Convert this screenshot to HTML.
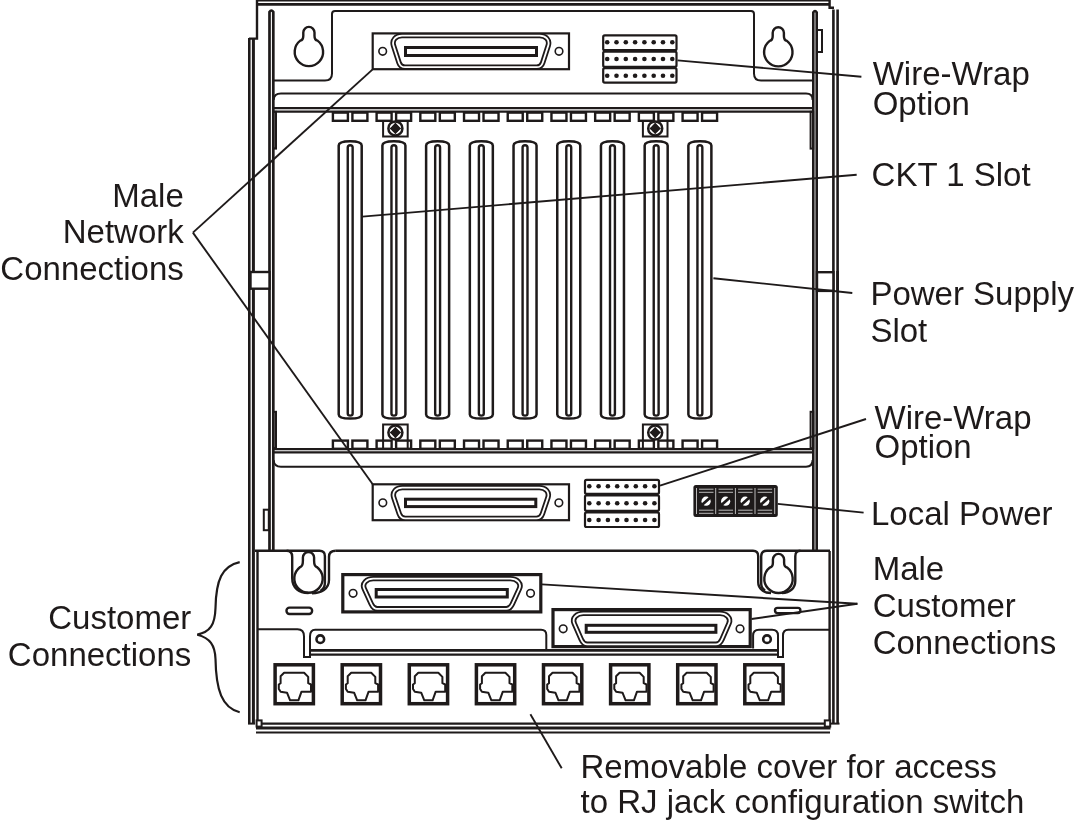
<!DOCTYPE html>
<html><head><meta charset="utf-8"><style>html,body{margin:0;padding:0;background:#fff;width:1074px;height:822px;overflow:hidden}svg{display:block;will-change:transform}</style></head>
<body><svg width="1074" height="822" viewBox="0 0 1074 822">
<g stroke="#1e1a1a" fill="none" stroke-linecap="butt">
<line x1="256" y1="0.7" x2="830" y2="0.7" stroke-width="1.6"/>
<line x1="256" y1="4.4" x2="830" y2="4.4" stroke-width="2.8"/>
<path d="M257,0 L257,38.6 L249,38.6" stroke-width="2.4" fill="none" />
<path d="M829.6,0 L829.6,7.8 L834,7.8" stroke-width="2.4" fill="none" />
<line x1="249.3" y1="38" x2="249.3" y2="723.5" stroke-width="2.6"/>
<line x1="253.4" y1="38" x2="253.4" y2="723.5" stroke-width="3.0"/>
<path d="M269.5,551 L269.5,12 Q271.4,9 273.3,12 L273.3,551" stroke-width="2.7" fill="none" />
<path d="M813.3,551 L813.3,12.5 Q815,9.5 816.7,12.5 L816.7,551" stroke-width="2.6" fill="none" />
<rect x="817" y="30" width="5" height="22" rx="0" stroke-width="2" fill="none"/>
<line x1="833.4" y1="9.5" x2="833.4" y2="723" stroke-width="2.6"/>
<line x1="837.6" y1="9.5" x2="837.6" y2="723" stroke-width="2.6"/>
<line x1="829.6" y1="551" x2="829.6" y2="723" stroke-width="2.4"/>
<line x1="257.5" y1="551" x2="257.5" y2="725" stroke-width="2.4"/>
<rect x="250.5" y="272" width="19" height="16.7" rx="0" stroke-width="2.4" fill="#fff"/>
<line x1="249.3" y1="271" x2="249.3" y2="290" stroke-width="2.6"/>
<rect x="817" y="272.2" width="16.4" height="18.7" rx="0" stroke-width="2.4" fill="#fff"/>
<line x1="837.6" y1="271" x2="837.6" y2="292" stroke-width="2.6"/>
<rect x="273.4" y="111.8" width="2.6" height="36.8" rx="0" stroke-width="2" fill="none"/>
<rect x="810.6" y="111.8" width="2.6" height="36.8" rx="0" stroke-width="2" fill="none"/>
<rect x="273.4" y="411.8" width="2.6" height="36.4" rx="0" stroke-width="2" fill="none"/>
<rect x="810.6" y="411.8" width="2.6" height="36.4" rx="0" stroke-width="2" fill="none"/>
<rect x="263.8" y="509.7" width="5" height="20.5" rx="0" stroke-width="2" fill="none"/>
<path d="M274,80.5 L325,80.5 Q332,80.5 332,73.5 L332,14 Q332,11 335,11 L751,11 Q754,11 754,14 L754,73.5 Q754,80.5 761,80.5 L812.6,80.5" stroke-width="2" fill="none" />
<path d="M303.30,32.50 A5.6,5.6 0 0 1 314.50,32.50 L314.50,35.70 Q314.50,40.00 317.50,40.60 A14.2,14.2 0 1 1 300.30,40.60 Q303.30,40.00 303.30,35.70 Z" stroke-width="2.4" fill="none" />
<path d="M772.70,32.80 A5.6,5.6 0 0 1 783.90,32.80 L783.90,36.00 Q783.90,40.30 786.90,40.90 A14.2,14.2 0 1 1 769.70,40.90 Q772.70,40.30 772.70,36.00 Z" stroke-width="2.4" fill="none" />
<path d="M273.6,100 Q274,93.6 281,93.6 L806,93.6 Q812.6,93.6 812.6,100" stroke-width="2" fill="none" />
<line x1="273.6" y1="108.2" x2="812.6" y2="108.2" stroke-width="2.2"/>
<line x1="273.6" y1="111.6" x2="812.6" y2="111.6" stroke-width="2.2"/>
<rect x="372.7" y="33.4" width="196.3" height="35.800000000000004" rx="0" stroke-width="2.2" fill="none"/>
<path d="M402.00,35.60 L539.70,35.60 C545.65,35.60 550.04,39.89 548.20,45.60 L542.70,62.70 C541.80,65.48 539.70,67.20 536.70,67.20 L405.00,67.20 C402.00,67.20 399.90,65.48 399.00,62.70 L393.50,45.60 C391.66,39.89 396.05,35.60 402.00,35.60 Z" stroke-width="5.4" fill="none" />
<path d="M402.00,35.60 L539.70,35.60 C545.65,35.60 550.04,39.89 548.20,45.60 L542.70,62.70 C541.80,65.48 539.70,67.20 536.70,67.20 L405.00,67.20 C402.00,67.20 399.90,65.48 399.00,62.70 L393.50,45.60 C391.66,39.89 396.05,35.60 402.00,35.60 Z" stroke="#fff" stroke-width="1.8" fill="none"/>
<rect x="405.5" y="47.5" width="131.0" height="8.0" rx="0" stroke-width="3" fill="none"/>
<circle cx="382.68399999999997" cy="51.35" r="3.8" stroke-width="1.6" fill="none"/>
<circle cx="559.016" cy="51.35" r="3.8" stroke-width="1.6" fill="none"/>
<rect x="372.7" y="484.3" width="196.3" height="35.900000000000034" rx="0" stroke-width="2.2" fill="none"/>
<path d="M402.30,487.60 L539.40,487.60 C545.35,487.60 549.82,491.91 547.90,497.60 L542.40,513.90 C541.46,516.67 539.40,518.40 536.40,518.40 L405.30,518.40 C402.30,518.40 400.24,516.67 399.30,513.90 L393.80,497.60 C391.88,491.91 396.35,487.60 402.30,487.60 Z" stroke-width="5.4" fill="none" />
<path d="M402.30,487.60 L539.40,487.60 C545.35,487.60 549.82,491.91 547.90,497.60 L542.40,513.90 C541.46,516.67 539.40,518.40 536.40,518.40 L405.30,518.40 C402.30,518.40 400.24,516.67 399.30,513.90 L393.80,497.60 C391.88,491.91 396.35,487.60 402.30,487.60 Z" stroke="#fff" stroke-width="1.8" fill="none"/>
<rect x="405.5" y="499.2" width="130.29999999999995" height="7.400000000000034" rx="0" stroke-width="3" fill="none"/>
<circle cx="382.828" cy="502.8" r="3.8" stroke-width="1.6" fill="none"/>
<circle cx="558.872" cy="502.8" r="3.8" stroke-width="1.6" fill="none"/>
<rect x="603.2" y="35.4" width="73.29999999999995" height="14.800000000000004" rx="1.5" stroke-width="2.2" fill="none"/>
<rect x="603.2" y="51.6" width="73.29999999999995" height="15.199999999999996" rx="1.5" stroke-width="2.2" fill="none"/>
<rect x="603.2" y="68.2" width="73.29999999999995" height="14.399999999999991" rx="1.5" stroke-width="2.2" fill="none"/>
<circle cx="607.2" cy="42.2" r="2.3" stroke-width="0" fill="#1e1a1a"/>
<circle cx="616.5" cy="42.2" r="2.3" stroke-width="0" fill="#1e1a1a"/>
<circle cx="625.8" cy="42.2" r="2.3" stroke-width="0" fill="#1e1a1a"/>
<circle cx="635.1" cy="42.2" r="2.3" stroke-width="0" fill="#1e1a1a"/>
<circle cx="644.4" cy="42.2" r="2.3" stroke-width="0" fill="#1e1a1a"/>
<circle cx="653.7" cy="42.2" r="2.3" stroke-width="0" fill="#1e1a1a"/>
<circle cx="663.0" cy="42.2" r="2.3" stroke-width="0" fill="#1e1a1a"/>
<circle cx="672.3" cy="42.2" r="2.3" stroke-width="0" fill="#1e1a1a"/>
<circle cx="607.2" cy="59" r="2.3" stroke-width="0" fill="#1e1a1a"/>
<circle cx="616.5" cy="59" r="2.3" stroke-width="0" fill="#1e1a1a"/>
<circle cx="625.8" cy="59" r="2.3" stroke-width="0" fill="#1e1a1a"/>
<circle cx="635.1" cy="59" r="2.3" stroke-width="0" fill="#1e1a1a"/>
<circle cx="644.4" cy="59" r="2.3" stroke-width="0" fill="#1e1a1a"/>
<circle cx="653.7" cy="59" r="2.3" stroke-width="0" fill="#1e1a1a"/>
<circle cx="663.0" cy="59" r="2.3" stroke-width="0" fill="#1e1a1a"/>
<circle cx="672.3" cy="59" r="2.3" stroke-width="0" fill="#1e1a1a"/>
<circle cx="607.2" cy="75.7" r="2.3" stroke-width="0" fill="#1e1a1a"/>
<circle cx="616.5" cy="75.7" r="2.3" stroke-width="0" fill="#1e1a1a"/>
<circle cx="625.8" cy="75.7" r="2.3" stroke-width="0" fill="#1e1a1a"/>
<circle cx="635.1" cy="75.7" r="2.3" stroke-width="0" fill="#1e1a1a"/>
<circle cx="644.4" cy="75.7" r="2.3" stroke-width="0" fill="#1e1a1a"/>
<circle cx="653.7" cy="75.7" r="2.3" stroke-width="0" fill="#1e1a1a"/>
<circle cx="663.0" cy="75.7" r="2.3" stroke-width="0" fill="#1e1a1a"/>
<circle cx="672.3" cy="75.7" r="2.3" stroke-width="0" fill="#1e1a1a"/>
<rect x="585" y="479.9" width="74" height="13.900000000000034" rx="1.5" stroke-width="2.2" fill="none"/>
<rect x="585" y="495.3" width="74" height="15.5" rx="1.5" stroke-width="2.2" fill="none"/>
<rect x="585" y="512.4" width="74" height="14.600000000000023" rx="1.5" stroke-width="2.2" fill="none"/>
<circle cx="589.3" cy="486.3" r="2.3" stroke-width="0" fill="#1e1a1a"/>
<circle cx="598.6" cy="486.3" r="2.3" stroke-width="0" fill="#1e1a1a"/>
<circle cx="607.9" cy="486.3" r="2.3" stroke-width="0" fill="#1e1a1a"/>
<circle cx="617.2" cy="486.3" r="2.3" stroke-width="0" fill="#1e1a1a"/>
<circle cx="626.5" cy="486.3" r="2.3" stroke-width="0" fill="#1e1a1a"/>
<circle cx="635.8" cy="486.3" r="2.3" stroke-width="0" fill="#1e1a1a"/>
<circle cx="645.1" cy="486.3" r="2.3" stroke-width="0" fill="#1e1a1a"/>
<circle cx="654.4" cy="486.3" r="2.3" stroke-width="0" fill="#1e1a1a"/>
<circle cx="589.3" cy="503.3" r="2.3" stroke-width="0" fill="#1e1a1a"/>
<circle cx="598.6" cy="503.3" r="2.3" stroke-width="0" fill="#1e1a1a"/>
<circle cx="607.9" cy="503.3" r="2.3" stroke-width="0" fill="#1e1a1a"/>
<circle cx="617.2" cy="503.3" r="2.3" stroke-width="0" fill="#1e1a1a"/>
<circle cx="626.5" cy="503.3" r="2.3" stroke-width="0" fill="#1e1a1a"/>
<circle cx="635.8" cy="503.3" r="2.3" stroke-width="0" fill="#1e1a1a"/>
<circle cx="645.1" cy="503.3" r="2.3" stroke-width="0" fill="#1e1a1a"/>
<circle cx="654.4" cy="503.3" r="2.3" stroke-width="0" fill="#1e1a1a"/>
<circle cx="589.3" cy="520" r="2.3" stroke-width="0" fill="#1e1a1a"/>
<circle cx="598.6" cy="520" r="2.3" stroke-width="0" fill="#1e1a1a"/>
<circle cx="607.9" cy="520" r="2.3" stroke-width="0" fill="#1e1a1a"/>
<circle cx="617.2" cy="520" r="2.3" stroke-width="0" fill="#1e1a1a"/>
<circle cx="626.5" cy="520" r="2.3" stroke-width="0" fill="#1e1a1a"/>
<circle cx="635.8" cy="520" r="2.3" stroke-width="0" fill="#1e1a1a"/>
<circle cx="645.1" cy="520" r="2.3" stroke-width="0" fill="#1e1a1a"/>
<circle cx="654.4" cy="520" r="2.3" stroke-width="0" fill="#1e1a1a"/>
<rect x="332.9" y="112.6" width="15" height="8.2" rx="0" stroke-width="2.4" fill="none"/>
<rect x="352.4" y="112.6" width="15" height="8.2" rx="0" stroke-width="2.4" fill="none"/>
<rect x="332.9" y="440.6" width="15" height="8.2" rx="0" stroke-width="2.4" fill="none"/>
<rect x="352.4" y="440.6" width="15" height="8.2" rx="0" stroke-width="2.4" fill="none"/>
<path d="M338.70,414.5 L338.70,145.5 Q338.70,141.2 350.20,141.2 Q361.70,141.2 361.70,145.5 L361.70,414.5 Q361.70,418.6 350.20,418.6 Q338.70,418.6 338.70,414.5 Z" stroke-width="2.5" fill="none" />
<path d="M347.75,413.5 L347.75,147.5 Q347.75,145.2 350.20,145.2 Q352.65,145.2 352.65,147.5 L352.65,413.5 Q352.65,415.6 350.20,415.6 Q347.75,415.6 347.75,413.5 Z" stroke-width="2.4" fill="none" />
<rect x="376.61" y="112.6" width="15" height="8.2" rx="0" stroke-width="2.4" fill="none"/>
<rect x="396.11" y="112.6" width="15" height="8.2" rx="0" stroke-width="2.4" fill="none"/>
<rect x="376.61" y="440.6" width="15" height="8.2" rx="0" stroke-width="2.4" fill="none"/>
<rect x="396.11" y="440.6" width="15" height="8.2" rx="0" stroke-width="2.4" fill="none"/>
<path d="M382.41,414.5 L382.41,145.5 Q382.41,141.2 393.91,141.2 Q405.41,141.2 405.41,145.5 L405.41,414.5 Q405.41,418.6 393.91,418.6 Q382.41,418.6 382.41,414.5 Z" stroke-width="2.5" fill="none" />
<path d="M391.46,413.5 L391.46,147.5 Q391.46,145.2 393.91,145.2 Q396.36,145.2 396.36,147.5 L396.36,413.5 Q396.36,415.6 393.91,415.6 Q391.46,415.6 391.46,413.5 Z" stroke-width="2.4" fill="none" />
<rect x="420.32" y="112.6" width="15" height="8.2" rx="0" stroke-width="2.4" fill="none"/>
<rect x="439.82" y="112.6" width="15" height="8.2" rx="0" stroke-width="2.4" fill="none"/>
<rect x="420.32" y="440.6" width="15" height="8.2" rx="0" stroke-width="2.4" fill="none"/>
<rect x="439.82" y="440.6" width="15" height="8.2" rx="0" stroke-width="2.4" fill="none"/>
<path d="M426.12,414.5 L426.12,145.5 Q426.12,141.2 437.62,141.2 Q449.12,141.2 449.12,145.5 L449.12,414.5 Q449.12,418.6 437.62,418.6 Q426.12,418.6 426.12,414.5 Z" stroke-width="2.5" fill="none" />
<path d="M435.17,413.5 L435.17,147.5 Q435.17,145.2 437.62,145.2 Q440.07,145.2 440.07,147.5 L440.07,413.5 Q440.07,415.6 437.62,415.6 Q435.17,415.6 435.17,413.5 Z" stroke-width="2.4" fill="none" />
<rect x="464.03" y="112.6" width="15" height="8.2" rx="0" stroke-width="2.4" fill="none"/>
<rect x="483.53" y="112.6" width="15" height="8.2" rx="0" stroke-width="2.4" fill="none"/>
<rect x="464.03" y="440.6" width="15" height="8.2" rx="0" stroke-width="2.4" fill="none"/>
<rect x="483.53" y="440.6" width="15" height="8.2" rx="0" stroke-width="2.4" fill="none"/>
<path d="M469.83,414.5 L469.83,145.5 Q469.83,141.2 481.33,141.2 Q492.83,141.2 492.83,145.5 L492.83,414.5 Q492.83,418.6 481.33,418.6 Q469.83,418.6 469.83,414.5 Z" stroke-width="2.5" fill="none" />
<path d="M478.88,413.5 L478.88,147.5 Q478.88,145.2 481.33,145.2 Q483.78,145.2 483.78,147.5 L483.78,413.5 Q483.78,415.6 481.33,415.6 Q478.88,415.6 478.88,413.5 Z" stroke-width="2.4" fill="none" />
<rect x="507.74" y="112.6" width="15" height="8.2" rx="0" stroke-width="2.4" fill="none"/>
<rect x="527.24" y="112.6" width="15" height="8.2" rx="0" stroke-width="2.4" fill="none"/>
<rect x="507.74" y="440.6" width="15" height="8.2" rx="0" stroke-width="2.4" fill="none"/>
<rect x="527.24" y="440.6" width="15" height="8.2" rx="0" stroke-width="2.4" fill="none"/>
<path d="M513.54,414.5 L513.54,145.5 Q513.54,141.2 525.04,141.2 Q536.54,141.2 536.54,145.5 L536.54,414.5 Q536.54,418.6 525.04,418.6 Q513.54,418.6 513.54,414.5 Z" stroke-width="2.5" fill="none" />
<path d="M522.59,413.5 L522.59,147.5 Q522.59,145.2 525.04,145.2 Q527.49,145.2 527.49,147.5 L527.49,413.5 Q527.49,415.6 525.04,415.6 Q522.59,415.6 522.59,413.5 Z" stroke-width="2.4" fill="none" />
<rect x="551.45" y="112.6" width="15" height="8.2" rx="0" stroke-width="2.4" fill="none"/>
<rect x="570.95" y="112.6" width="15" height="8.2" rx="0" stroke-width="2.4" fill="none"/>
<rect x="551.45" y="440.6" width="15" height="8.2" rx="0" stroke-width="2.4" fill="none"/>
<rect x="570.95" y="440.6" width="15" height="8.2" rx="0" stroke-width="2.4" fill="none"/>
<path d="M557.25,414.5 L557.25,145.5 Q557.25,141.2 568.75,141.2 Q580.25,141.2 580.25,145.5 L580.25,414.5 Q580.25,418.6 568.75,418.6 Q557.25,418.6 557.25,414.5 Z" stroke-width="2.5" fill="none" />
<path d="M566.30,413.5 L566.30,147.5 Q566.30,145.2 568.75,145.2 Q571.20,145.2 571.20,147.5 L571.20,413.5 Q571.20,415.6 568.75,415.6 Q566.30,415.6 566.30,413.5 Z" stroke-width="2.4" fill="none" />
<rect x="595.16" y="112.6" width="15" height="8.2" rx="0" stroke-width="2.4" fill="none"/>
<rect x="614.66" y="112.6" width="15" height="8.2" rx="0" stroke-width="2.4" fill="none"/>
<rect x="595.16" y="440.6" width="15" height="8.2" rx="0" stroke-width="2.4" fill="none"/>
<rect x="614.66" y="440.6" width="15" height="8.2" rx="0" stroke-width="2.4" fill="none"/>
<path d="M600.96,414.5 L600.96,145.5 Q600.96,141.2 612.46,141.2 Q623.96,141.2 623.96,145.5 L623.96,414.5 Q623.96,418.6 612.46,418.6 Q600.96,418.6 600.96,414.5 Z" stroke-width="2.5" fill="none" />
<path d="M610.01,413.5 L610.01,147.5 Q610.01,145.2 612.46,145.2 Q614.91,145.2 614.91,147.5 L614.91,413.5 Q614.91,415.6 612.46,415.6 Q610.01,415.6 610.01,413.5 Z" stroke-width="2.4" fill="none" />
<rect x="638.87" y="112.6" width="15" height="8.2" rx="0" stroke-width="2.4" fill="none"/>
<rect x="658.37" y="112.6" width="15" height="8.2" rx="0" stroke-width="2.4" fill="none"/>
<rect x="638.87" y="440.6" width="15" height="8.2" rx="0" stroke-width="2.4" fill="none"/>
<rect x="658.37" y="440.6" width="15" height="8.2" rx="0" stroke-width="2.4" fill="none"/>
<path d="M644.67,414.5 L644.67,145.5 Q644.67,141.2 656.17,141.2 Q667.67,141.2 667.67,145.5 L667.67,414.5 Q667.67,418.6 656.17,418.6 Q644.67,418.6 644.67,414.5 Z" stroke-width="2.5" fill="none" />
<path d="M653.72,413.5 L653.72,147.5 Q653.72,145.2 656.17,145.2 Q658.62,145.2 658.62,147.5 L658.62,413.5 Q658.62,415.6 656.17,415.6 Q653.72,415.6 653.72,413.5 Z" stroke-width="2.4" fill="none" />
<rect x="682.58" y="112.6" width="15" height="8.2" rx="0" stroke-width="2.4" fill="none"/>
<rect x="702.08" y="112.6" width="15" height="8.2" rx="0" stroke-width="2.4" fill="none"/>
<rect x="682.58" y="440.6" width="15" height="8.2" rx="0" stroke-width="2.4" fill="none"/>
<rect x="702.08" y="440.6" width="15" height="8.2" rx="0" stroke-width="2.4" fill="none"/>
<path d="M688.38,414.5 L688.38,145.5 Q688.38,141.2 699.88,141.2 Q711.38,141.2 711.38,145.5 L711.38,414.5 Q711.38,418.6 699.88,418.6 Q688.38,418.6 688.38,414.5 Z" stroke-width="2.5" fill="none" />
<path d="M697.43,413.5 L697.43,147.5 Q697.43,145.2 699.88,145.2 Q702.33,145.2 702.33,147.5 L702.33,413.5 Q702.33,415.6 699.88,415.6 Q697.43,415.6 697.43,413.5 Z" stroke-width="2.4" fill="none" />
<path d="M383.09999999999997,120.8 L383.09999999999997,136.6 L407.7,136.6 L407.7,120.8" stroke-width="2" fill="none" />
<circle cx="395.4" cy="128.4" r="7.0" stroke-width="2.5" fill="none"/>
<path d="M395.4,122.60000000000001 Q397.9,125.9 401.2,128.4 Q397.9,130.9 395.4,134.20000000000002 Q392.9,130.9 389.59999999999997,128.4 Q392.9,125.9 395.4,122.60000000000001 Z" fill="#1e1a1a" stroke="none"/>
<circle cx="395.4" cy="128.4" r="3.6" stroke-width="0" fill="#1e1a1a"/>
<path d="M383.09999999999997,448 L383.09999999999997,424.4 L407.7,424.4 L407.7,448" stroke-width="2" fill="none" />
<circle cx="395.4" cy="432.6" r="7.0" stroke-width="2.5" fill="none"/>
<path d="M395.4,426.8 Q397.9,430.1 401.2,432.6 Q397.9,435.1 395.4,438.40000000000003 Q392.9,435.1 389.59999999999997,432.6 Q392.9,430.1 395.4,426.8 Z" fill="#1e1a1a" stroke="none"/>
<circle cx="395.4" cy="432.6" r="3.6" stroke-width="0" fill="#1e1a1a"/>
<path d="M642.9000000000001,120.8 L642.9000000000001,136.6 L667.5,136.6 L667.5,120.8" stroke-width="2" fill="none" />
<circle cx="655.2" cy="128.4" r="7.0" stroke-width="2.5" fill="none"/>
<path d="M655.2,122.60000000000001 Q657.7,125.9 661.0,128.4 Q657.7,130.9 655.2,134.20000000000002 Q652.7,130.9 649.4000000000001,128.4 Q652.7,125.9 655.2,122.60000000000001 Z" fill="#1e1a1a" stroke="none"/>
<circle cx="655.2" cy="128.4" r="3.6" stroke-width="0" fill="#1e1a1a"/>
<path d="M642.9000000000001,448 L642.9000000000001,424.4 L667.5,424.4 L667.5,448" stroke-width="2" fill="none" />
<circle cx="655.2" cy="432.6" r="7.0" stroke-width="2.5" fill="none"/>
<path d="M655.2,426.8 Q657.7,430.1 661.0,432.6 Q657.7,435.1 655.2,438.40000000000003 Q652.7,435.1 649.4000000000001,432.6 Q652.7,430.1 655.2,426.8 Z" fill="#1e1a1a" stroke="none"/>
<circle cx="655.2" cy="432.6" r="3.6" stroke-width="0" fill="#1e1a1a"/>
<line x1="273.6" y1="449.2" x2="812.6" y2="449.2" stroke-width="2.2"/>
<line x1="273.6" y1="452.4" x2="812.6" y2="452.4" stroke-width="2.2"/>
<path d="M273.6,460 Q274,466.7 281,466.7 L806,466.7 Q812.6,466.7 812.6,460" stroke-width="2" fill="none" />
<rect x="693.4" y="485.1" width="84.4" height="31.8" rx="2.5" stroke-width="0" fill="#1e1a1a"/>
<line x1="699.00" y1="489.2" x2="713.50" y2="489.2" stroke="#fff" stroke-width="0.7"/>
<line x1="699.00" y1="492.3" x2="713.50" y2="492.3" stroke="#fff" stroke-width="0.7"/>
<line x1="699.00" y1="510.2" x2="713.50" y2="510.2" stroke="#fff" stroke-width="0.7"/>
<line x1="699.00" y1="513.3" x2="713.50" y2="513.3" stroke="#fff" stroke-width="0.7"/>
<circle cx="706.10" cy="501.2" r="4.6" fill="#fff" stroke="none"/>
<line x1="701.60" y1="505.2" x2="710.60" y2="497.2" stroke="#1e1a1a" stroke-width="2.8"/>
<line x1="718.55" y1="489.2" x2="733.05" y2="489.2" stroke="#fff" stroke-width="0.7"/>
<line x1="718.55" y1="492.3" x2="733.05" y2="492.3" stroke="#fff" stroke-width="0.7"/>
<line x1="718.55" y1="510.2" x2="733.05" y2="510.2" stroke="#fff" stroke-width="0.7"/>
<line x1="718.55" y1="513.3" x2="733.05" y2="513.3" stroke="#fff" stroke-width="0.7"/>
<circle cx="725.65" cy="501.2" r="4.6" fill="#fff" stroke="none"/>
<line x1="721.15" y1="505.2" x2="730.15" y2="497.2" stroke="#1e1a1a" stroke-width="2.8"/>
<line x1="738.10" y1="489.2" x2="752.60" y2="489.2" stroke="#fff" stroke-width="0.7"/>
<line x1="738.10" y1="492.3" x2="752.60" y2="492.3" stroke="#fff" stroke-width="0.7"/>
<line x1="738.10" y1="510.2" x2="752.60" y2="510.2" stroke="#fff" stroke-width="0.7"/>
<line x1="738.10" y1="513.3" x2="752.60" y2="513.3" stroke="#fff" stroke-width="0.7"/>
<circle cx="745.20" cy="501.2" r="4.6" fill="#fff" stroke="none"/>
<line x1="740.70" y1="505.2" x2="749.70" y2="497.2" stroke="#1e1a1a" stroke-width="2.8"/>
<line x1="757.65" y1="489.2" x2="772.15" y2="489.2" stroke="#fff" stroke-width="0.7"/>
<line x1="757.65" y1="492.3" x2="772.15" y2="492.3" stroke="#fff" stroke-width="0.7"/>
<line x1="757.65" y1="510.2" x2="772.15" y2="510.2" stroke="#fff" stroke-width="0.7"/>
<line x1="757.65" y1="513.3" x2="772.15" y2="513.3" stroke="#fff" stroke-width="0.7"/>
<circle cx="764.75" cy="501.2" r="4.6" fill="#fff" stroke="none"/>
<line x1="760.25" y1="505.2" x2="769.25" y2="497.2" stroke="#1e1a1a" stroke-width="2.8"/>
<line x1="696.5" y1="488" x2="696.5" y2="514" stroke="#fff" stroke-width="0.7"/>
<line x1="715.7" y1="488" x2="715.7" y2="514" stroke="#fff" stroke-width="0.7"/>
<line x1="735.4" y1="488" x2="735.4" y2="514" stroke="#fff" stroke-width="0.7"/>
<line x1="755" y1="488" x2="755" y2="514" stroke="#fff" stroke-width="0.7"/>
<line x1="774.7" y1="488" x2="774.7" y2="514" stroke="#fff" stroke-width="0.7"/>
<path d="M255,550.8 L319.5,550.8 Q324.9,550.8 324.9,556.2 L324.9,583 Q324.9,588 320.5,591" stroke-width="2.4" fill="none" />
<path d="M286.7,550.8 Q292.2,550.8 292.2,556.9 L292.2,578 C292.2,588 299,593 308.5,593" stroke-width="2.4" fill="none" />
<path d="M335.8,550.8 Q329,550.8 329,556.9 L329,580 C329,589 321,593.2 312,593.2" stroke-width="2.4" fill="none" />
<path d="M335.8,550.8 L753,550.8 Q758.2,550.8 758.2,556.2 L758.2,582 C758.2,589 764,593 771,593" stroke-width="2.4" fill="none" />
<path d="M830,550.8 L767,550.8 Q761.2,550.8 761.2,556.2 L761.2,584 Q761.2,588 765,590.5" stroke-width="2.4" fill="none" />
<path d="M800.4,550.8 Q795.3,550.8 795.3,556.2 L795.3,581 C795.3,588 790,593 782,593" stroke-width="2.4" fill="none" />
<path d="M302.90,557.60 A5.6,5.6 0 0 1 314.10,557.60 L314.10,560.80 Q314.10,566.60 317.10,567.20 A14.2,14.2 0 1 1 299.90,567.20 Q302.90,566.60 302.90,560.80 Z" stroke-width="2.4" fill="none" />
<path d="M772.90,559.50 A5.6,5.6 0 0 1 784.10,559.50 L784.10,562.70 Q784.10,566.90 787.10,567.50 A14.2,14.2 0 1 1 769.90,567.50 Q772.90,566.90 772.90,562.70 Z" stroke-width="2.4" fill="none" />
<rect x="286.5" y="607.6" width="25.6" height="6.4" rx="3" stroke-width="2.4" fill="none"/>
<rect x="775" y="607.9" width="25.4" height="5.2" rx="2.5" stroke-width="2.4" fill="none"/>
<path d="M258,629.3 L297.5,629.3 Q304,629.3 304,636.4 L304,657 L310,657 L310,636.4 Q310,629.8 315.2,629.8 L541,629.8 Q546.3,629.8 546.3,635 L546.3,650" stroke-width="2" fill="none" />
<circle cx="320.3" cy="639.2" r="3.8" stroke-width="2.6" fill="none"/>
<path d="M753.1,648.6 L753.1,635.5 Q753.1,629.7 759,629.7 L772.1,629.7 Q778,629.7 778,635.5 L778,657 L783,657 L783,635.5 Q783,629.7 788.2,629.7 L829.8,629.7" stroke-width="2" fill="none" />
<circle cx="767" cy="639.2" r="3.8" stroke-width="2.6" fill="none"/>
<line x1="310" y1="650.4" x2="777" y2="650.4" stroke-width="2.6"/>
<line x1="310" y1="654.6" x2="777" y2="654.6" stroke-width="2.2"/>
<rect x="342.8" y="574.6" width="197.99999999999994" height="37.299999999999955" rx="0" stroke-width="3.2" fill="none"/>
<path d="M373.20,578.60 L510.40,578.60 C516.70,578.60 521.91,583.15 519.40,588.60 L512.40,603.80 C511.04,606.75 509.40,608.80 506.40,608.80 L377.20,608.80 C374.20,608.80 372.56,606.75 371.20,603.80 L364.20,588.60 C361.69,583.15 366.90,578.60 373.20,578.60 Z" stroke-width="5.4" fill="none" />
<path d="M373.20,578.60 L510.40,578.60 C516.70,578.60 521.91,583.15 519.40,588.60 L512.40,603.80 C511.04,606.75 509.40,608.80 506.40,608.80 L377.20,608.80 C374.20,608.80 372.56,606.75 371.20,603.80 L364.20,588.60 C361.69,583.15 366.90,578.60 373.20,578.60 Z" stroke="#fff" stroke-width="1.8" fill="none"/>
<rect x="376.2" y="589.5" width="131.10000000000002" height="7.5" rx="0" stroke-width="3" fill="none"/>
<circle cx="353.072" cy="593.3" r="3.8" stroke-width="1.6" fill="none"/>
<circle cx="530.528" cy="593.3" r="3.8" stroke-width="1.6" fill="none"/>
<rect x="553" y="609.6" width="197.20000000000005" height="37.0" rx="0" stroke-width="3.2" fill="none"/>
<path d="M583.20,613.40 L720.00,613.40 C726.30,613.40 731.42,617.91 729.00,623.40 L722.00,639.30 C720.69,642.27 719.00,644.30 716.00,644.30 L587.20,644.30 C584.20,644.30 582.51,642.27 581.20,639.30 L574.20,623.40 C571.78,617.91 576.90,613.40 583.20,613.40 Z" stroke-width="5.4" fill="none" />
<path d="M583.20,613.40 L720.00,613.40 C726.30,613.40 731.42,617.91 729.00,623.40 L722.00,639.30 C720.69,642.27 719.00,644.30 716.00,644.30 L587.20,644.30 C584.20,644.30 582.51,642.27 581.20,639.30 L574.20,623.40 C571.78,617.91 576.90,613.40 583.20,613.40 Z" stroke="#fff" stroke-width="1.8" fill="none"/>
<rect x="586.2" y="625.3" width="129.69999999999993" height="7.0" rx="0" stroke-width="3" fill="none"/>
<circle cx="563.176" cy="628.8" r="3.8" stroke-width="1.6" fill="none"/>
<circle cx="740.024" cy="628.8" r="3.8" stroke-width="1.6" fill="none"/>
<rect x="275.1" y="664.8" width="38.3" height="38.9" rx="0" stroke-width="3.5" fill="none"/>
<polygon points="284.10,672.80 304.10,672.80 308.20,676.90 308.20,683.20 311.00,684.50 311.00,691.70 301.50,691.70 298.40,700.30 290.10,700.30 287.00,692.70 280.60,691.70 278.80,688.90 278.80,684.50 280.60,683.20 280.60,676.20" stroke-width="2" fill="none" stroke-linejoin="round"/>
<rect x="342.2" y="664.8" width="38.3" height="38.9" rx="0" stroke-width="3.5" fill="none"/>
<polygon points="351.20,672.80 371.20,672.80 375.30,676.90 375.30,683.20 378.10,684.50 378.10,691.70 368.60,691.70 365.50,700.30 357.20,700.30 354.10,692.70 347.70,691.70 345.90,688.90 345.90,684.50 347.70,683.20 347.70,676.20" stroke-width="2" fill="none" stroke-linejoin="round"/>
<rect x="409.3" y="664.8" width="38.3" height="38.9" rx="0" stroke-width="3.5" fill="none"/>
<polygon points="418.30,672.80 438.30,672.80 442.40,676.90 442.40,683.20 445.20,684.50 445.20,691.70 435.70,691.70 432.60,700.30 424.30,700.30 421.20,692.70 414.80,691.70 413.00,688.90 413.00,684.50 414.80,683.20 414.80,676.20" stroke-width="2" fill="none" stroke-linejoin="round"/>
<rect x="476.4" y="664.8" width="38.3" height="38.9" rx="0" stroke-width="3.5" fill="none"/>
<polygon points="485.40,672.80 505.40,672.80 509.50,676.90 509.50,683.20 512.30,684.50 512.30,691.70 502.80,691.70 499.70,700.30 491.40,700.30 488.30,692.70 481.90,691.70 480.10,688.90 480.10,684.50 481.90,683.20 481.90,676.20" stroke-width="2" fill="none" stroke-linejoin="round"/>
<rect x="543.5" y="664.8" width="38.3" height="38.9" rx="0" stroke-width="3.5" fill="none"/>
<polygon points="552.50,672.80 572.50,672.80 576.60,676.90 576.60,683.20 579.40,684.50 579.40,691.70 569.90,691.70 566.80,700.30 558.50,700.30 555.40,692.70 549.00,691.70 547.20,688.90 547.20,684.50 549.00,683.20 549.00,676.20" stroke-width="2" fill="none" stroke-linejoin="round"/>
<rect x="610.6" y="664.8" width="38.3" height="38.9" rx="0" stroke-width="3.5" fill="none"/>
<polygon points="619.60,672.80 639.60,672.80 643.70,676.90 643.70,683.20 646.50,684.50 646.50,691.70 637.00,691.70 633.90,700.30 625.60,700.30 622.50,692.70 616.10,691.70 614.30,688.90 614.30,684.50 616.10,683.20 616.10,676.20" stroke-width="2" fill="none" stroke-linejoin="round"/>
<rect x="677.7" y="664.8" width="38.3" height="38.9" rx="0" stroke-width="3.5" fill="none"/>
<polygon points="686.70,672.80 706.70,672.80 710.80,676.90 710.80,683.20 713.60,684.50 713.60,691.70 704.10,691.70 701.00,700.30 692.70,700.30 689.60,692.70 683.20,691.70 681.40,688.90 681.40,684.50 683.20,683.20 683.20,676.20" stroke-width="2" fill="none" stroke-linejoin="round"/>
<rect x="744.8" y="664.8" width="38.3" height="38.9" rx="0" stroke-width="3.5" fill="none"/>
<polygon points="753.80,672.80 773.80,672.80 777.90,676.90 777.90,683.20 780.70,684.50 780.70,691.70 771.20,691.70 768.10,700.30 759.80,700.30 756.70,692.70 750.30,691.70 748.50,688.90 748.50,684.50 750.30,683.20 750.30,676.20" stroke-width="2" fill="none" stroke-linejoin="round"/>
<line x1="256" y1="723.7" x2="830.5" y2="723.7" stroke-width="2.2"/>
<line x1="256" y1="728" x2="830.5" y2="728" stroke-width="3.0"/>
<line x1="256" y1="732.6" x2="830" y2="732.6" stroke-width="2.0"/>
<line x1="248" y1="723.6" x2="255" y2="723.6" stroke-width="2"/>
<line x1="828" y1="723.6" x2="839.5" y2="723.6" stroke-width="2"/>
<rect x="256.6" y="720.4" width="5" height="6.2" rx="0" stroke-width="2" fill="#fff"/>
<rect x="824.8" y="720.4" width="5.4" height="6.2" rx="0" stroke-width="2" fill="#fff"/>
<line x1="372.4" y1="69.6" x2="192.9" y2="232.6" stroke-width="1.9"/>
<line x1="192.9" y1="232.6" x2="372.7" y2="484.3" stroke-width="1.9"/>
<line x1="677.5" y1="60.4" x2="861.4" y2="76.7" stroke-width="1.9"/>
<line x1="362.3" y1="216.6" x2="856.7" y2="174.8" stroke-width="1.9"/>
<line x1="713.4" y1="278.2" x2="852.3" y2="293" stroke-width="1.9"/>
<line x1="660" y1="485.7" x2="866" y2="419" stroke-width="1.9"/>
<line x1="777.7" y1="503.9" x2="863.6" y2="512.6" stroke-width="1.9"/>
<line x1="542" y1="584.4" x2="857.4" y2="603.8" stroke-width="1.9"/>
<line x1="751.5" y1="619" x2="857.4" y2="603.8" stroke-width="1.9"/>
<line x1="530.4" y1="714.3" x2="561.7" y2="768.3" stroke-width="1.9"/>
<path d="M239.7,562.1 C222,566 216,580 215.5,608 C215,625 210,632 197.3,634.7 C210,638 215,645 215.5,659 C216,690 222,708 239.7,712.2" stroke-width="2.2" fill="none" />
</g>
<g fill="#1e1a1a" font-family="Liberation Sans, sans-serif" font-size="33"><text x="872.7" y="85.2" text-anchor="start">Wire-Wrap</text><text x="872.7" y="115.4" text-anchor="start">Option</text><text x="871.6" y="185.5" text-anchor="start">CKT 1 Slot</text><text x="870.4" y="305.3" text-anchor="start">Power Supply</text><text x="870.4" y="341.7" text-anchor="start">Slot</text><text x="874.5" y="428.5" text-anchor="start">Wire-Wrap</text><text x="874.5" y="457.5" text-anchor="start">Option</text><text x="871" y="525" text-anchor="start">Local Power</text><text x="872.7" y="579.5" text-anchor="start">Male</text><text x="872.7" y="616.5" text-anchor="start">Customer</text><text x="872.7" y="653.5" text-anchor="start">Connections</text><text x="183.8" y="206.5" text-anchor="end">Male</text><text x="183.8" y="243" text-anchor="end">Network</text><text x="183.8" y="279.5" text-anchor="end">Connections</text><text x="191.3" y="628.7" text-anchor="end">Customer</text><text x="191.3" y="665.7" text-anchor="end">Connections</text><text x="580.5" y="777.7" text-anchor="start">Removable cover for access</text><text x="580.5" y="813.4" text-anchor="start">to RJ jack configuration switch</text></g>
</svg></body></html>
